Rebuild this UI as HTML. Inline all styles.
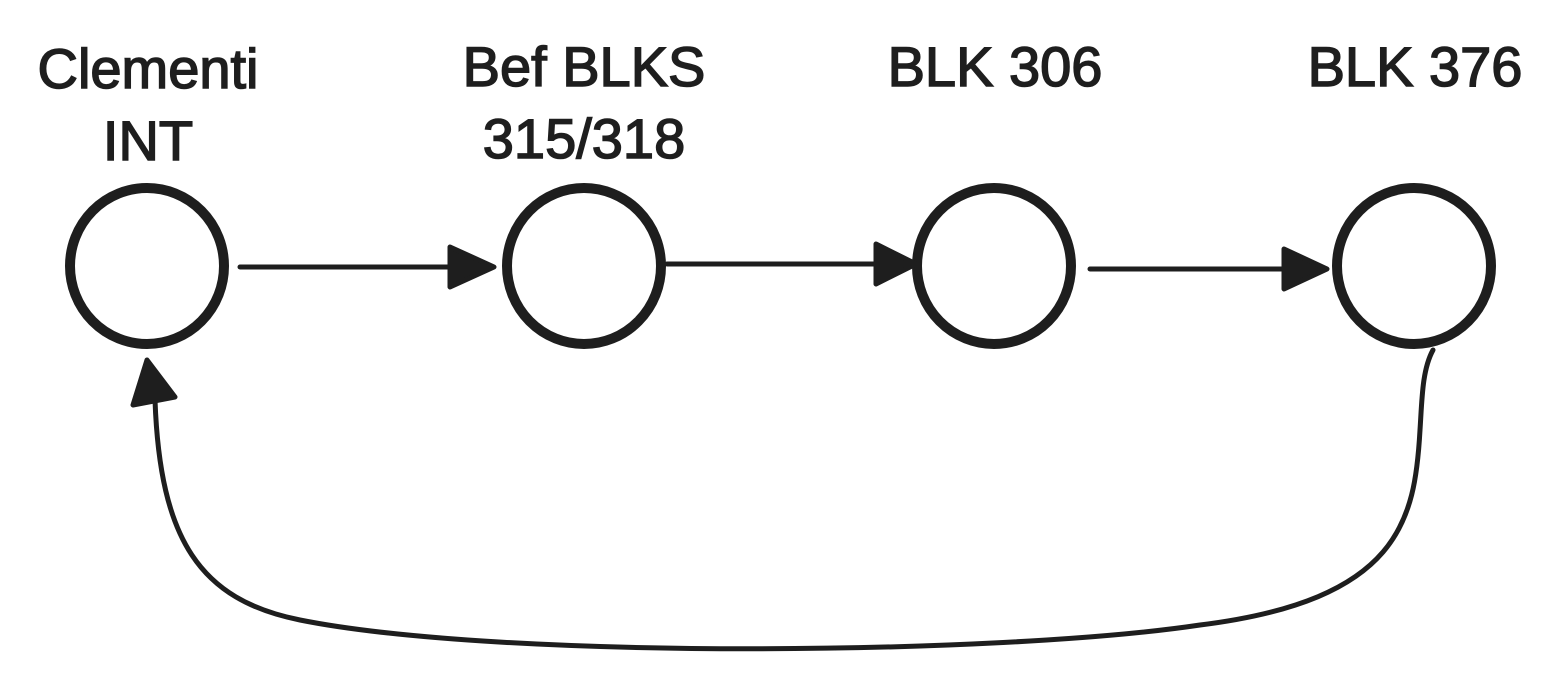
<!DOCTYPE html>
<html><head><meta charset="utf-8"><style>
html,body{margin:0;padding:0;background:#fff;}
svg{display:block;}
text{font-family:"Liberation Sans",sans-serif;font-size:56px;fill:#1e1e1e;stroke:#1e1e1e;stroke-width:1.5;text-anchor:middle;}
</style></head><body>
<svg width="1568" height="682" viewBox="0 0 1568 682" xmlns="http://www.w3.org/2000/svg">
<g fill="none" stroke="#1e1e1e" stroke-width="10">
<ellipse cx="147" cy="266" rx="77" ry="78"/>
<ellipse cx="584" cy="266" rx="77" ry="78"/>
<ellipse cx="994" cy="266" rx="77" ry="78"/>
<ellipse cx="1414" cy="266" rx="77" ry="78"/>
</g>
<g stroke="#1e1e1e" stroke-width="5" stroke-linecap="round" fill="none">
<line x1="240" y1="267" x2="460" y2="267"/>
<line x1="667" y1="264" x2="880" y2="264"/>
<line x1="1090" y1="269" x2="1290" y2="269"/>
<path d="M1433 350 C1422 370 1422 400 1420 430 C1415 520 1400 600 1200 625 C1000 655 500 660 300 620 C200 600 160 540 155 400"/>
</g>
<g fill="#1e1e1e" stroke="#1e1e1e" stroke-width="5" stroke-linejoin="round">
<polygon points="450,247 494,267 450,287"/>
<polygon points="876,244 916,264 876,284"/>
<polygon points="1284,249 1327,269 1284,289"/>
<polygon points="147,360 133,405 175,397"/>
</g>
<text x="148" y="88">Clementi</text>
<text x="148" y="160">INT</text>
<text x="584" y="86">Bef BLKS</text>
<text x="584" y="158">315/318</text>
<text x="995" y="86">BLK 306</text>
<text x="1415" y="86">BLK 376</text>
</svg>
</body></html>
